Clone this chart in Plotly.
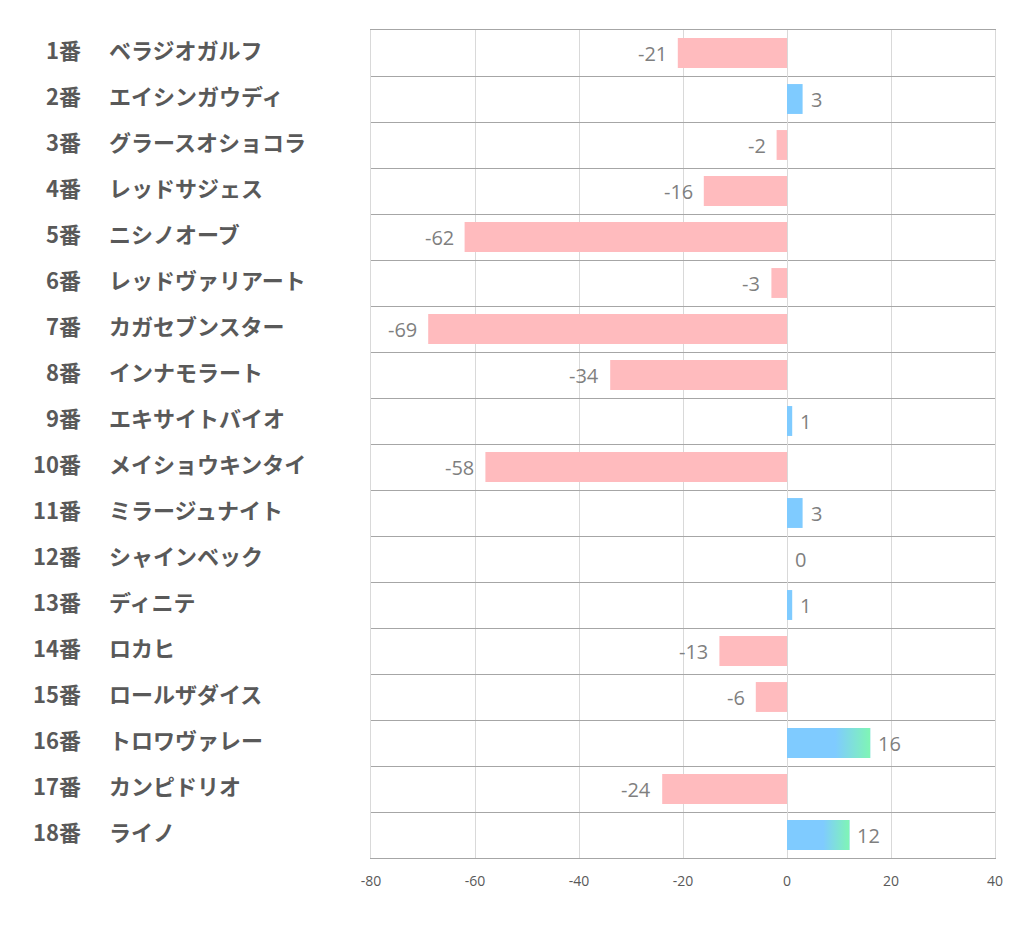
import plotly.graph_objects as go

nums = ["1番","2番","3番","4番","5番","6番","7番","8番","9番","10番","11番","12番","13番","14番","15番","16番","17番","18番"]
names = ["ベラジオガルフ","エイシンガウディ","グラースオショコラ","レッドサジェス","ニシノオーブ","レッドヴァリアート",
         "カガセブンスター","インナモラート","エキサイトバイオ","メイショウキンタイ","ミラージュナイト","シャインベック",
         "ディニテ","ロカヒ","ロールザダイス","トロワヴァレー","カンピドリオ","ライノ"]
values = [-21, 3, -2, -16, -62, -3, -69, -34, 1, -58, 3, 0, 1, -13, -6, 16, -24, 12]
xticks = [-80, -60, -40, -20, 0, 20, 40]
xticktext = ["-80", "-60", "-40", "-20", "0", "20", "40"]

PINK = "#FFBBBE"
BLUE = "#7FCBFF"
GREEN = "#7FF5B5"
GRAD_MIN = 10
BW = 0.65

idx = list(range(len(values)))
colors = [PINK if v < 0 else BLUE for v in values]

fig = go.Figure()
fig.add_trace(go.Bar(
    x=values, y=idx, orientation="h", width=BW,
    marker=dict(color=colors, line=dict(width=0)),
    hoverinfo="skip",
))

for i, v in zip(idx, values):
    if v >= GRAD_MIN:
        fig.add_trace(go.Scatter(
            x=[0, v, v, 0, 0], y=[i - BW/2, i - BW/2, i + BW/2, i + BW/2, i - BW/2],
            mode="lines", line=dict(width=0), fill="toself",
            fillgradient=dict(type="horizontal",
                              colorscale=[[0, BLUE], [0.58, BLUE], [1, GREEN]]),
            hoverinfo="skip", showlegend=False,
        ))

# figure is offset by the 8px page margin
W, H = 1014, 931
L, R, T, B = 363, 27, 22, 81
pw = W - L - R

LABEL_FONT = dict(family="Noto Sans CJK JP", size=22, color="#595959", weight="bold")
annotations = []
for i in idx:
    annotations.append(dict(x=-288 / pw, y=i, xref="paper", yref="y", text=nums[i],
                            xanchor="right", yanchor="middle", yshift=4, showarrow=False, font=LABEL_FONT))
    annotations.append(dict(x=-264 / pw, y=i, xref="paper", yref="y", text=names[i],
                            xanchor="left", yanchor="middle", yshift=4, showarrow=False, font=LABEL_FONT))
    v = values[i]
    annotations.append(dict(x=v, y=i, xref="x", yref="y", text=str(v),
                            xanchor="right" if v < 0 else "left", yanchor="middle",
                            xshift=-9 if v < 0 else 6, yshift=0, showarrow=False,
                            font=dict(family="Open Sans", size=20, color="#7F7F7F")))

fig.update_layout(
    width=W, height=H, margin=dict(l=L, r=R, t=T, b=B, autoexpand=False),
    paper_bgcolor="white", plot_bgcolor="white", showlegend=False,
    barmode="overlay", annotations=annotations,
    xaxis=dict(range=[-80, 40], tickvals=xticks, ticktext=xticktext,
               showgrid=True, gridcolor="#D9D9D9", gridwidth=1,
               zeroline=True, zerolinecolor="#D9D9D9", zerolinewidth=1,
               showline=True, linecolor="#A6A6A6", linewidth=1, mirror=True,
               ticks="", ticklen=0, ticklabelstandoff=10,
               tickfont=dict(family="Open Sans", size=14, color="#595959")),
    yaxis=dict(range=[len(values) - 0.5, -0.5], tickvals=[i - 0.5 for i in range(len(values) + 1)],
               showticklabels=False, showgrid=True, gridcolor="#A6A6A6", gridwidth=1,
               zeroline=False, showline=True, linecolor="#D9D9D9", linewidth=1, mirror=True,
               ticks=""),
)
fig.write_html("out.html")
